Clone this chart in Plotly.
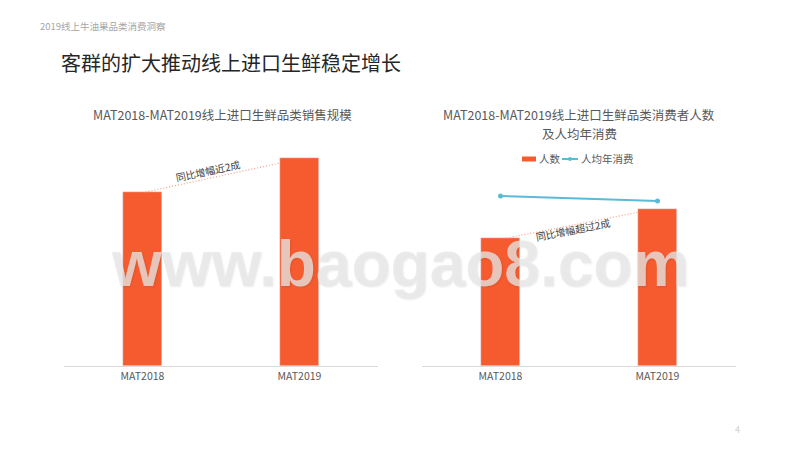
import plotly.graph_objects as go

# ---- data ----
categories = ["MAT2018", "MAT2019"]
sales_index = [100, 119.5]          # 线上进口生鲜品类销售规模 (index, MAT2018 = 100)
buyers_index = [100, 123]           # 消费者人数 (index, MAT2018 = 100)
spend_index = [100, 97]             # 人均年消费 (index, MAT2018 = 100)
series_names = ["人数", "人均年消费"]

left_title = "MAT2018-MAT2019线上进口生鲜品类销售规模"
right_title_1 = "MAT2018-MAT2019线上进口生鲜品类消费者人数"
right_title_2 = "及人均年消费"
left_note = "同比增幅近2成"
right_note = "同比增幅超过2成"
header = "2019线上牛油果品类消费洞察"
main_title = "客群的扩大推动线上进口生鲜稳定增长"

ORANGE = "#F55B2E"
BLUE = "#5BBAD5"
DOT = "#F0A088"
FONT = "Noto Sans CJK SC, Liberation Sans, sans-serif"

fig = go.Figure()

fig.add_trace(go.Bar(x=categories, y=sales_index, marker_color=ORANGE, width=0.25,
                     xaxis="x", yaxis="y", showlegend=False, name="销售规模"))
fig.add_trace(go.Bar(x=categories, y=buyers_index, marker_color=ORANGE, width=0.25,
                     xaxis="x2", yaxis="y2", name=series_names[0], showlegend=False))
fig.add_trace(go.Scatter(x=categories, y=spend_index, mode="lines+markers",
                         line=dict(color=BLUE, width=2), marker=dict(size=5, color=BLUE),
                         xaxis="x2", yaxis="y3", name=series_names[1], showlegend=False))

ydom = [1 - 366 / 450, 1 - 140 / 450]
R1 = 100 * 226 / 174
R2 = 100 * 226 / 128
R3 = 100 * 226 / 170

axis_common = dict(type="category", range=[-0.5, 1.5], showline=True, linecolor="#D9D9D9",
                   linewidth=1, ticks="", showgrid=False, zeroline=False,
                   tickfont=dict(size=10.5, color="#595959", family=FONT), fixedrange=True)

fig.update_layout(
    width=800, height=450,
    margin=dict(l=0, r=0, t=0, b=0),
    paper_bgcolor="white", plot_bgcolor="rgba(0,0,0,0)",
    font=dict(family=FONT),
    xaxis=dict(domain=[64 / 800, 378 / 800], anchor="y", **axis_common),
    yaxis=dict(domain=ydom, range=[0, R1], visible=False),
    xaxis2=dict(domain=[422 / 800, 736 / 800], anchor="y2", **axis_common),
    yaxis2=dict(domain=ydom, range=[0, R2], visible=False),
    yaxis3=dict(domain=ydom, range=[0, R3], visible=False, overlaying="y2", anchor="x2"),
    showlegend=False,
    bargap=0,
)

# dotted growth connectors
fig.add_shape(type="line", xref="x", yref="y", x0=0.02, y0=sales_index[0], x1=0.87,
              y1=sales_index[1] * 0.975, line=dict(color=DOT, width=1.2, dash="1px,2px"))
fig.add_shape(type="line", xref="x2", yref="y2", x0=0.04, y0=buyers_index[0], x1=0.87,
              y1=buyers_index[1] * 0.975, line=dict(color=DOT, width=1.2, dash="1px,2px"))

# legend keys for the right chart
LY = 1 - 159 / 450
fig.add_shape(type="rect", xref="paper", yref="paper", x0=522 / 800, x1=536 / 800,
              y0=LY - 2.5 / 450, y1=LY + 2.5 / 450, fillcolor=ORANGE, line_width=0)
fig.add_shape(type="line", xref="paper", yref="paper", x0=562 / 800, x1=578 / 800,
              y0=LY, y1=LY, line=dict(color=BLUE, width=2))
fig.add_shape(type="circle", xref="paper", yref="paper", x0=568 / 800, x1=572 / 800,
              y0=LY - 2 / 450, y1=LY + 2 / 450, fillcolor=BLUE, line_width=0)


def note(text, x, y, xref="paper", yref="paper", size=10, color="#404040", angle=0,
         xanchor="center", family=FONT, **kw):
    return dict(text=text, xref=xref, yref=yref, x=x, y=y, showarrow=False, textangle=angle,
                xanchor=xanchor, yanchor="middle",
                font=dict(size=size, color=color, family=family, **kw))


ann = [
    note(left_note, 0.42, 112.5, xref="x", yref="y", angle=-12),
    note(right_note, 0.46, 107, xref="x2", yref="y2", angle=-11),
    note(left_title, 222 / 800, 1 - 114 / 450, size=12.5, color="#595959"),
    note(right_title_1, 579 / 800, 1 - 114 / 450, size=12.5, color="#595959"),
    note(right_title_2, 579 / 800, 1 - 133 / 450, size=12.5, color="#595959"),
    note(series_names[0], 537 / 800, LY, size=10.5, color="#595959", xanchor="left"),
    note(series_names[1], 579 / 800, LY, size=10.5, color="#595959", xanchor="left"),
    note(header, 38 / 800, 1 - 26 / 450, size=9.5, color="#A6A6A6", xanchor="left"),
    note(main_title, 59 / 800, 1 - 62 / 450, size=20, color="#262626", xanchor="left"),
    note("4", 737 / 800, 1 - 429 / 450, size=9, color="#D0D0D0"),
    note("www.baogao8.com", 400 / 800, 1 - 264 / 450, size=64,
         color="rgba(232,232,232,0.77)", family="Liberation Sans", weight="bold",
         shadow="1px 1px 2px rgba(0,0,0,0.10)"),
]
fig.update_layout(annotations=ann)

fig.write_html("out.html", config={"displayModeBar": False},
               post_script="document.body.style.margin='0';")
